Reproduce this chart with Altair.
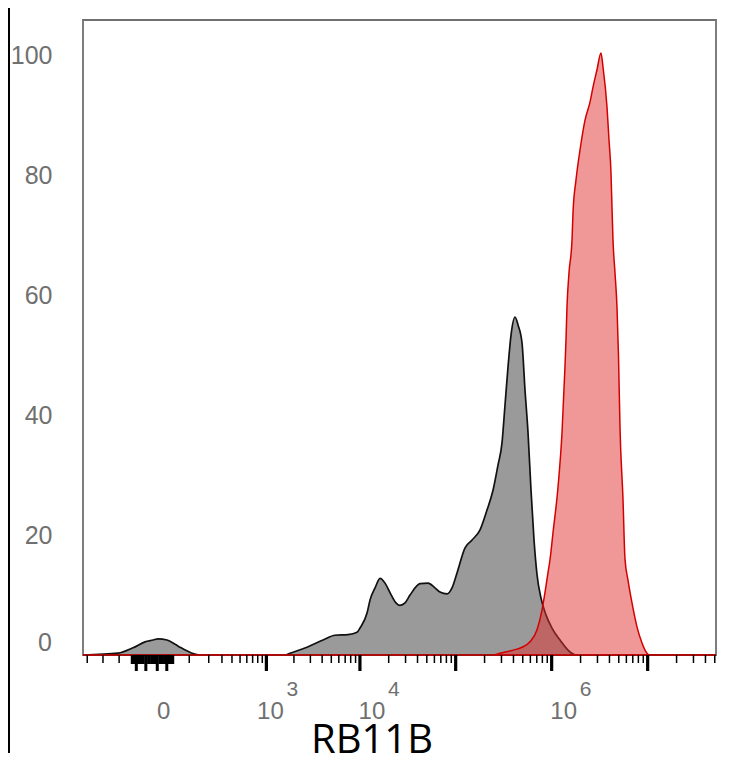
import altair as alt
import pandas as pd

# ---- data (x = fluorescence intensity, y = % of max) ----
gray_x = [-284, -84, -38, -11.5, 2.5, 11.5, 30.6, 51.5, 66.6, 111.6, 150,
          1600, 1815, 2760, 4090, 5470, 7500, 9320, 10020, 11870, 12770,
          14400, 16240, 18320, 20650, 23290, 26250, 29620, 33400, 42470,
          51500, 60870, 68650, 81210, 91530, 103260, 125150, 148170, 179450,
          212000, 244870, 276000, 303840, 326500, 351080, 377200, 415280,
          446400, 491160, 527800, 567330, 609500, 655000, 704140, 774700,
          872400, 1007700, 1221200, 1552400, 1793100, 51500000]
gray_y = [0, 0.3, 1.2, 2.2, 2.5, 2.7, 2.5, 1.8, 1.3, 0.3, 0,
          0, 0.3, 1.3, 2.5, 3.3, 3.4, 3.8, 4.5, 7.0, 9.2,
          11.2, 12.8, 12.0, 10.4, 8.9, 8.3, 8.7, 10.0, 11.9,
          12.0, 11.2, 10.5, 10.2, 11.2, 13.7, 17.9, 19.2, 20.9,
          24.2, 27.5, 31.7, 35.4, 41.7, 48.1, 53.4, 56.4,
          55.1, 52.1, 44.2, 37.1, 27.5, 19.2, 13.4, 9.5,
          6.7, 4.5, 2.5, 0.5, 0, 0]

red_x = [-284, 244870, 289600, 395600, 491160, 595000, 704140, 792800,
         851800, 915200, 961000, 1032500, 1164200, 1281600, 1376300,
         1410500, 1444500, 1515800, 1629600, 1668200, 1793100, 1974000,
         2225700, 2508700, 2695900, 2965500, 3263600, 3423800, 3769900,
         3955500, 4148800, 4249200, 4353900, 4568100, 4791300, 4968000,
         5149300, 5534200, 5807000, 6239000, 6867300, 7743200, 8730500,
         9832800, 10568000, 51500000]
red_y = [0, 0, 0.3, 0.8, 1.3, 2.2, 4.2, 7.5,
         10.4, 13.7, 15.9, 20.4, 28.0, 37.1, 48.1,
         52.6, 58.1, 63.8, 69.3, 73.8, 79.3, 84.3,
         89.3, 92.3, 94.8, 97.7, 100.5, 98.2, 91.5,
         86.0, 80.5, 74.8, 69.3, 63.8, 58.1, 50.0,
         38.0, 26.0, 16.0, 12.5, 8.7, 4.7, 2.0,
         0.3, 0, 0]

# ---- axis furniture ----
major_ticks = [1e3, 1e4, 1e5, 1e6, 1e7]
minor_ticks = ([-250, -150, -80]
               + [100, 200, 300, 400, 500, 600, 700, 800, 900]
               + [m * 10 ** k for k in (3, 4, 5, 6) for m in range(2, 10)]
               + [2e7, 3e7, 4e7, 5e7])
zero_block_short = [-40, -35, -25, -20, -15, -5, 0, 5, 15, 20, 25, 35, 40, 45]
zero_block_long = [-30, -10, 10, 30]
x_label_values_a = [0, 1e4, 1e6]
x_label_base_a = ["0", "10", "10"]
x_label_values_b = [1e3]
x_label_base_b = ["10"]
x_exp_values_a = [1e4, 1e6]
x_exp_text_a = ["4", "6"]
x_exp_values_b = [1e3]
x_exp_text_b = ["3"]
y_label_values = [20, 40, 60, 80, 100]
x_title = "RB11B"

W, H = 633, 635
LABEL_GRAY = "#707070"

xscale = alt.Scale(type="symlog", constant=68, domain=[-284, 5.15e7], nice=False)
yscale = alt.Scale(domain=[0, 106], nice=False, zero=False)
yaxis = alt.Axis(values=y_label_values, ticks=False, tickSize=0, domain=False,
                 grid=False, labelPadding=31, labelFontSize=25,
                 labelFont="Liberation Sans", labelColor=LABEL_GRAY, title=None)

gray_df = pd.DataFrame({"x": gray_x, "y": gray_y})
red_df = pd.DataFrame({"x": red_x, "y": red_y})

gray = alt.Chart(gray_df).mark_area(
    color="#9a9a9a", opacity=1, stroke="#111111", strokeWidth=1.7,
    interpolate="monotone"
).encode(x=alt.X("x:Q", scale=xscale, axis=None),
         y=alt.Y("y:Q", scale=yscale, axis=yaxis))

red = alt.Chart(red_df).mark_area(
    fill="#e23131", fillOpacity=0.5, stroke="#d40000", strokeWidth=1.5,
    interpolate="monotone"
).encode(x=alt.X("x:Q", scale=xscale, axis=None),
         y=alt.Y("y:Q", scale=yscale, axis=yaxis))


def tick_layer(values, length, width):
    return alt.Chart(pd.DataFrame({"v": values})).mark_rule(
        color="black", strokeWidth=width
    ).encode(x=alt.X("v:Q", scale=xscale, axis=None),
             y=alt.value(H), y2=alt.value(H + length))


minor = tick_layer(minor_ticks, 8, 1.5)
major = tick_layer(major_ticks, 16, 3.2)
zshort = tick_layer(zero_block_short, 9, 3)
zlong = tick_layer(zero_block_long, 16, 3)


def label_layer(values, texts, size, dx, ypos):
    return alt.Chart(pd.DataFrame({"v": values, "t": texts})).mark_text(
        font="Liberation Sans", fontSize=size, color=LABEL_GRAY, align="center",
        baseline="middle", dx=dx
    ).encode(x=alt.X("v:Q", scale=xscale, axis=None), y=alt.value(ypos), text="t:N")


xlab_a = label_layer(x_label_values_a, x_label_base_a, 24, 12, 692)
xlab_b = label_layer(x_label_values_b, x_label_base_b, 24, 4, 692)
xexp_a = label_layer(x_exp_values_a, x_exp_text_a, 21, 34, 670)
xexp_b = label_layer(x_exp_values_b, x_exp_text_b, 21, 26, 670)

yzero = alt.Chart(pd.DataFrame({"y": [0], "t": ["0"]})).mark_text(
    font="Liberation Sans", fontSize=25, color=LABEL_GRAY, align="right",
    baseline="middle", dy=-12
).encode(x=alt.value(-31), y=alt.Y("y:Q", scale=yscale, axis=yaxis), text="t:N")

title = alt.Chart(pd.DataFrame({"t": [x_title]})).mark_text(
    font="Open Sans", fontSize=40, color="black", align="center",
    baseline="alphabetic"
).encode(x=alt.value(289), y=alt.value(733), text="t:N")

border = alt.Chart(pd.DataFrame({"a": [0]})).mark_rule(
    color="black", strokeWidth=2
).encode(x=alt.value(-74), y=alt.value(-12), y2=alt.value(733))

chart = alt.layer(
    gray, red, minor, major, zshort, zlong, xlab_a, xlab_b, xexp_a, xexp_b,
    yzero, title, border
).properties(
    width=W, height=H,
    autosize=alt.AutoSizeParams(type="none"),
    padding={"left": 75, "top": 12, "right": 10, "bottom": 98},
    background="white",
).configure_view(stroke="#707070", strokeWidth=1.8)

chart.save("out.html", embed_options={"renderer": "svg", "actions": False})
